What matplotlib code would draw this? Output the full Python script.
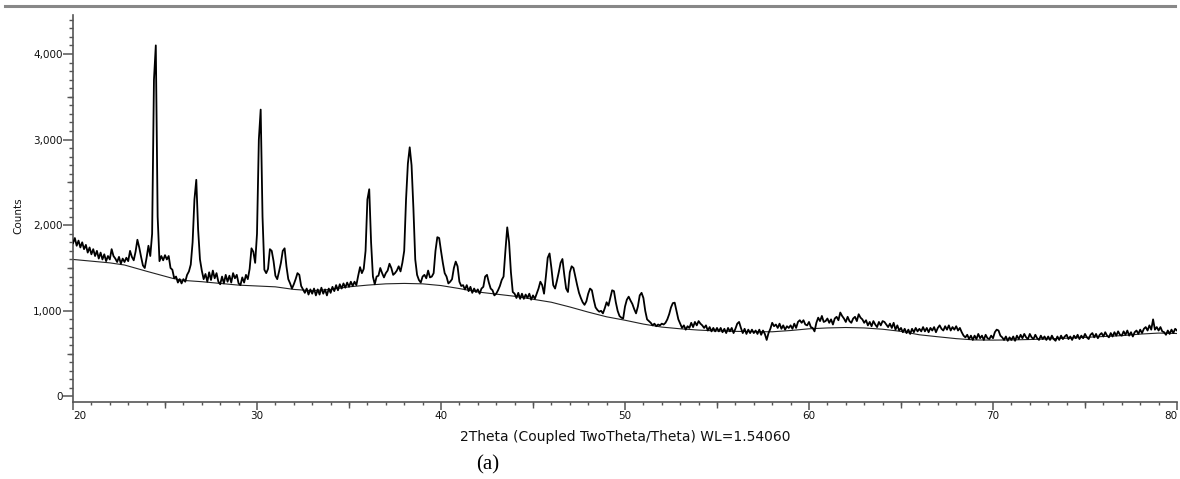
import numpy as np
import matplotlib
matplotlib.use("Agg")
import matplotlib.pyplot as plt
from matplotlib.ticker import MultipleLocator, FuncFormatter, FixedLocator
from matplotlib.lines import Line2D

# ---------------- data ----------------
# counts sampled every 0.1 degree 2-theta, from 20.0 to 80.0
counts = [
    # 20
    1790, 1850, 1760, 1820, 1740, 1800, 1720, 1770, 1680, 1740,
    # 21
    1660, 1720, 1640, 1700, 1610, 1680, 1600, 1660, 1580, 1640,
    # 22
    1600, 1720, 1640, 1610, 1570, 1630, 1550, 1610, 1570, 1620,
    # 23
    1580, 1700, 1630, 1590, 1690, 1830, 1740, 1630, 1530, 1500,
    # 24
    1620, 1760, 1640, 1900, 3700, 4100, 2100, 1580, 1640, 1590,
    # 25
    1650, 1600, 1640, 1500, 1480, 1380, 1400, 1330, 1370, 1320,
    # 26
    1370, 1340, 1420, 1460, 1540, 1800, 2300, 2530, 1950, 1600,
    # 27
    1470, 1370, 1430, 1340, 1450, 1360, 1470, 1380, 1440, 1340,
    # 28
    1310, 1400, 1320, 1420, 1340, 1410, 1330, 1440, 1380, 1420,
    # 29
    1320, 1300, 1390, 1330, 1420, 1370, 1490, 1730, 1690, 1560,
    # 30
    1900, 3000, 3350, 2100, 1480, 1440, 1490, 1720, 1700, 1580,
    # 31
    1410, 1370, 1460, 1560, 1700, 1730, 1520, 1370, 1320, 1260,
    # 32
    1310, 1370, 1440, 1420, 1290, 1250, 1210, 1260, 1190, 1250,
    # 33
    1200, 1260, 1180, 1250, 1190, 1270, 1200, 1250, 1180, 1260,
    # 34
    1210, 1280, 1230, 1300, 1240, 1310, 1260, 1320, 1270, 1330,
    # 35
    1280, 1340, 1290, 1340, 1300, 1410, 1510, 1440, 1490, 1700,
    # 36
    2300, 2420, 1800, 1400, 1310, 1400, 1410, 1500, 1440, 1390,
    # 37
    1440, 1470, 1550, 1500, 1420, 1440, 1470, 1520, 1460, 1560,
    # 38
    1700, 2300, 2720, 2910, 2700, 2200, 1600, 1420, 1360, 1330,
    # 39
    1400, 1420, 1380, 1470, 1390, 1400, 1440, 1700, 1860, 1850,
    # 40
    1700, 1560, 1440, 1400, 1320, 1340, 1370, 1500, 1575, 1520,
    # 41
    1340, 1290, 1300, 1250, 1300, 1230, 1280, 1210, 1260, 1220,
    # 42
    1250, 1200, 1260, 1280, 1400, 1420, 1330, 1260, 1240, 1180,
    # 43
    1200, 1240, 1290, 1360, 1400, 1700, 1975, 1800, 1450, 1220,
    # 44
    1200, 1150, 1210, 1140, 1200, 1140, 1190, 1150, 1200, 1130,
    # 45
    1180, 1140, 1200, 1260, 1340, 1300, 1200, 1400, 1620, 1670,
    # 46
    1500, 1300, 1260, 1350, 1450, 1560, 1605, 1420, 1260, 1220,
    # 47
    1450, 1520, 1500, 1400, 1300, 1210, 1150, 1100, 1070, 1110,
    # 48
    1200, 1260, 1240, 1130, 1040, 1010, 990, 1000, 970, 1030,
    # 49
    1100, 1060, 1150, 1240, 1230, 1100, 1000, 940, 920, 910,
    # 50
    1050, 1130, 1165, 1120, 1080, 1020, 970, 1050, 1180, 1210,
    # 51
    1150, 1000, 900, 880, 860, 830, 850, 820, 840, 830,
    # 52
    850, 840, 860, 900, 960, 1040, 1090, 1095, 1000, 900,
    # 53
    850, 800, 830, 780, 820, 800, 860, 810, 870, 830,
    # 54
    880, 850, 830, 800, 830, 770, 810, 760, 800, 760,
    # 55
    800, 760, 800, 750, 790, 740, 800, 760, 800, 740,
    # 56
    790, 850, 870, 800, 740, 790, 730, 780, 740, 780,
    # 57
    740, 770, 730, 780, 720, 770, 730, 660, 740, 790,
    # 58
    860, 820, 840, 800, 850, 790, 830, 780, 820, 800,
    # 59
    830, 790, 850, 800, 870, 890, 860, 890, 840, 830,
    # 60
    870, 810, 800, 760, 860, 920, 880, 940, 870, 880,
    # 61
    910, 860, 900, 840, 910, 930, 890, 980, 940, 910,
    # 62
    870, 930, 880, 860, 910, 930, 880, 960, 920, 900,
    # 63
    860, 890, 830, 870, 820, 880, 840, 810, 870, 830,
    # 64
    880, 870, 840, 810, 850, 800, 860, 780, 830, 770,
    # 65
    800, 750, 790, 740, 780, 730, 790, 750, 800, 760,
    # 66
    790, 760, 810, 760, 800, 750, 800, 770, 810, 750,
    # 67
    800, 830, 790, 770, 820, 780, 830, 770, 810, 780,
    # 68
    820, 770, 800, 750, 710, 690, 720, 670, 710, 660,
    # 69
    710, 670, 730, 680, 710, 660, 720, 680, 670, 710,
    # 70
    680, 750, 780, 770, 710, 690, 660, 700, 650, 690,
    # 71
    660, 700, 650, 710, 670, 720, 680, 730, 690, 670,
    # 72
    730, 690, 670, 720, 680, 660, 710, 670, 700, 660,
    # 73
    700, 660, 710, 670, 650, 700, 660, 710, 670, 700,
    # 74
    720, 670, 700, 660, 710, 680, 720, 670, 710, 680,
    # 75
    730, 690, 670, 720, 740, 690, 730, 680, 720, 740,
    # 76
    700, 750, 710, 690, 740, 700, 750, 710, 760, 720,
    # 77
    710, 760, 720, 770, 710, 750, 700, 750, 770, 730,
    # 78
    780, 740, 790, 810, 770, 830, 780, 900, 780, 810,
    # 79
    770, 810, 760, 750, 720, 770, 730, 780, 740, 790,
    # 80
    770,
]
two_theta_start = 20.0
two_theta_end = 80.0

# fitted background curve
bg_theta = [20, 21, 22, 22.8, 24, 25.4, 26, 27, 28, 29, 30, 31, 32, 33, 34, 35,
            36, 37, 38, 39, 40, 41, 42, 43, 44, 45, 46, 47, 48, 49, 50, 51, 52,
            53, 54, 55, 56, 57, 58, 59, 60, 61, 62, 63, 64, 65, 66, 67, 68, 69,
            70, 71, 72, 73, 74, 75, 76, 77, 78, 79, 80]
bg_counts = [1600, 1580, 1560, 1535, 1462, 1380, 1355, 1340, 1320, 1300, 1290,
             1280, 1250, 1235, 1250, 1280, 1300, 1315, 1320, 1315, 1295, 1260,
             1220, 1195, 1170, 1135, 1100, 1045, 985, 930, 890, 845, 810, 790,
             775, 765, 760, 757, 755, 770, 790, 800, 805, 800, 785, 760, 720,
             697, 675, 660, 658, 660, 665, 672, 680, 690, 700, 710, 728, 740, 735]

x_label = "2Theta (Coupled TwoTheta/Theta) WL=1.54060"
y_label = "Counts"
panel_label = "(a)"

# ---------------- figure ----------------
two_theta = np.linspace(two_theta_start, two_theta_end, len(counts))

fig = plt.figure(figsize=(11.8, 4.79), dpi=100)
ax = fig.add_axes([73 / 1180, 1 - 402 / 479, (1177 - 73) / 1180, (402 - 15) / 479])

ax.plot(bg_theta, bg_counts, color="#222222", lw=0.8, zorder=2)
ax.plot(two_theta, counts, color="black", lw=1.3, zorder=3)

ax.set_xlim(20, 80)
ax.set_ylim(-65, 4455)

spine_col = "#555555"
for s in ["top", "right"]:
    ax.spines[s].set_visible(False)
for s in ["left", "bottom"]:
    ax.spines[s].set_color(spine_col)
    ax.spines[s].set_linewidth(1.2)

ax.xaxis.set_major_locator(MultipleLocator(10))
ax.xaxis.set_minor_locator(MultipleLocator(1))
ax.yaxis.set_major_locator(MultipleLocator(1000))
ax.yaxis.set_minor_locator(MultipleLocator(100))
ax.yaxis.set_major_formatter(FuncFormatter(lambda v, p: f"{int(v):,}"))

ax.tick_params(axis="x", which="major", direction="out", length=5.5, width=1.1,
               color=spine_col, pad=1, labelsize=7.5, labelcolor="#111111")
ax.tick_params(axis="x", which="minor", direction="out", length=2.5, width=1.0,
               color=spine_col)
ax.tick_params(axis="y", which="major", direction="out", length=7, width=1.1,
               color=spine_col, pad=0.5, labelsize=7.5, labelcolor="#111111")
ax.tick_params(axis="y", which="minor", direction="out", length=2.8, width=1.0,
               color=spine_col)

# medium ticks at the half-decades
secx = ax.secondary_xaxis("bottom")
secx.xaxis.set_major_locator(FixedLocator([25, 35, 45, 55, 65, 75]))
secx.tick_params(direction="out", length=4, width=1.0, color=spine_col, labelbottom=False)
secx.spines["bottom"].set_visible(False)
secy = ax.secondary_yaxis("left")
secy.yaxis.set_major_locator(FixedLocator([500, 1500, 2500, 3500]))
secy.tick_params(direction="out", length=4.5, width=1.0, color=spine_col, labelleft=False)
secy.spines["left"].set_visible(False)

# keep the end labels inside the figure, as in the reference
fig.canvas.draw()
xlabels = ax.get_xticklabels()
for lab in xlabels:
    if lab.get_text() == "20":
        lab.set_horizontalalignment("left")
    elif lab.get_text() == "80":
        lab.set_horizontalalignment("right")

fig.text(625 / 1180, 1 - 437 / 479, x_label, ha="center", va="center",
         fontsize=10, family="DejaVu Sans", color="#111111")
fig.text(18 / 1180, 1 - 216 / 479, y_label, ha="center", va="center",
         rotation=90, fontsize=7.5, family="DejaVu Sans", color="#111111")
fig.text(488 / 1180, 1 - 465 / 479, panel_label, ha="center", va="center",
         fontsize=15, family="Liberation Serif", color="black")

fig.add_artist(Line2D([5 / 1180, 1175 / 1180], [1 - 6 / 479, 1 - 6 / 479],
                      transform=fig.transFigure, color="#888888", lw=2.2))

fig.savefig("out.png", dpi=100)
